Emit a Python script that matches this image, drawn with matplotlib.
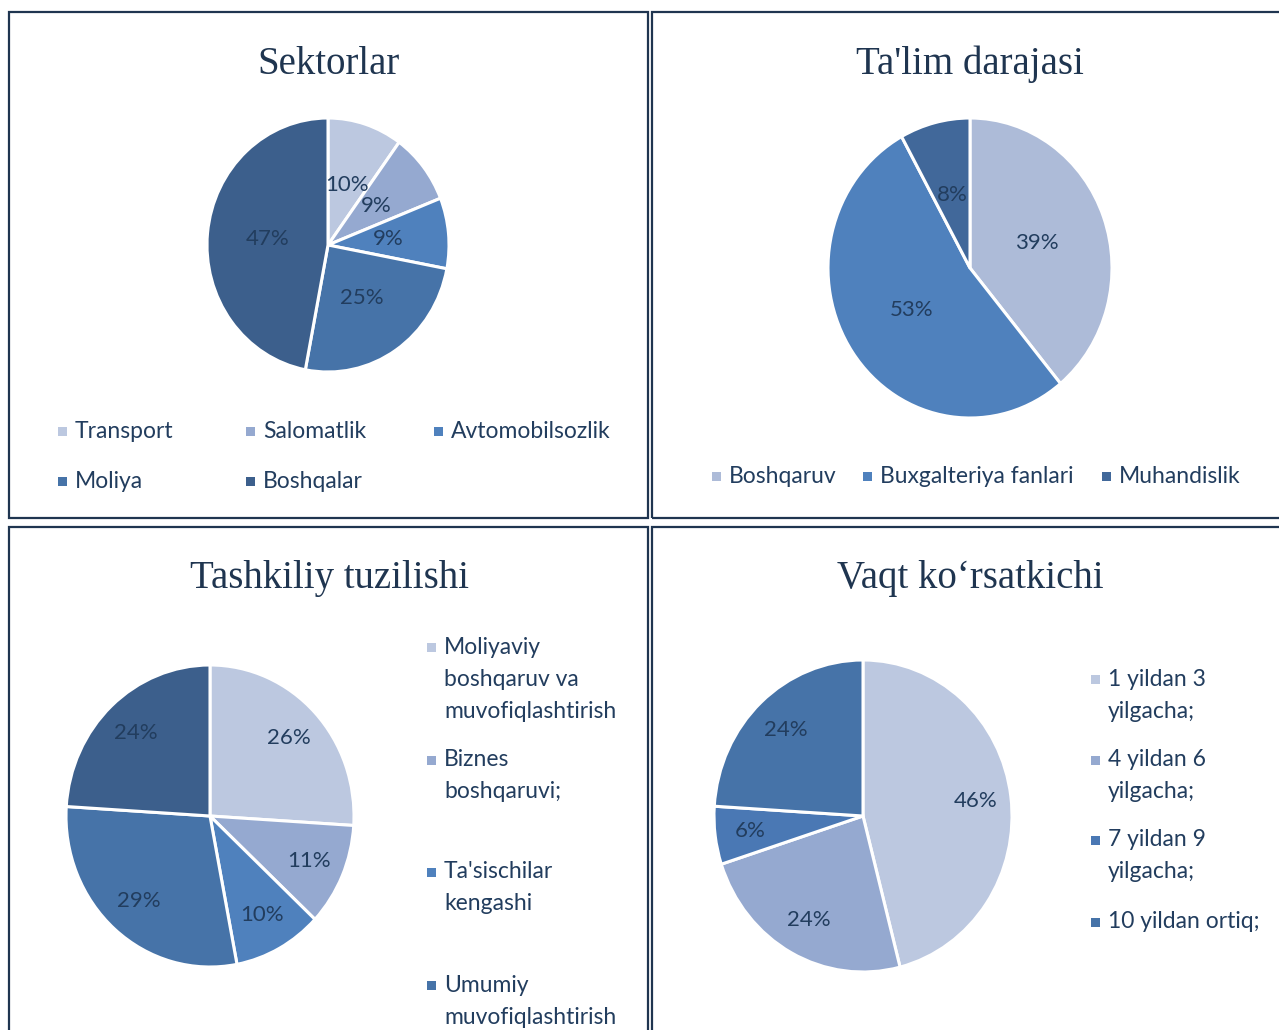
import numpy as np
import matplotlib.pyplot as plt
from matplotlib.patches import Rectangle

W, H = 1279, 1030

# ---- dati ----
sek_labels = ["Transport", "Salomatlik", "Avtomobilsozlik", "Moliya", "Boshqalar"]
sek_values = [10, 9, 9, 25, 47]
sek_colors = ["#bcc8e0", "#95a9d0", "#4f81bd", "#4673a8", "#3c5f8c"]

talim_labels = ["Boshqaruv", "Buxgalteriya fanlari", "Muhandislik"]
talim_values = [39, 53, 8]
talim_colors = ["#adbbd8", "#4f81bd", "#41689a"]

tash_labels = ["Moliyaviy\nboshqaruv va\nmuvofiqlashtirish", "Biznes\nboshqaruvi;",
               "Ta'sischilar\nkengashi", "Umumiy\nmuvofiqlashtirish"]
tash_values = [26, 11, 10, 29, 24]
tash_colors = ["#bcc8e0", "#95a9d0", "#4f81bd", "#4673a8", "#3c5f8c"]

vaqt_labels = ["1 yildan 3\nyilgacha;", "4 yildan 6\nyilgacha;", "7 yildan 9\nyilgacha;", "10 yildan ortiq;"]
vaqt_values = [46, 24, 6, 24]
vaqt_colors = ["#bcc8e0", "#95a9d0", "#4a78b4", "#4673a8"]

SANS = ["Lato", "DejaVu Sans"]
SERIF = ["Liberation Serif", "DejaVu Serif"]
NAVY = "#1f3550"
LBL = "#223d5e"

fig = plt.figure(figsize=(W/100, H/100), dpi=100)
fig.patch.set_facecolor("white")

def fx(x): return x / W
def fy(y): return 1 - y / H

# cornici dei pannelli
for x0, y0, x1, y1 in [(9, 12, 648, 518), (652, 12, 1300, 518),
                       (9, 527, 648, 1050), (652, 527, 1300, 1050)]:
    fig.add_artist(Rectangle((fx(x0), fy(y1)), fx(x1) - fx(x0), fy(y0) - fy(y1),
                             transform=fig.transFigure, fill=False,
                             edgecolor=NAVY, lw=1.6, clip_on=False))

def pie_panel(cx, cy, rx, ry, values, colors, pctdist):
    ax = fig.add_axes([fx(cx - rx), fy(cy + ry), 2 * rx / W, 2 * ry / H])
    wedges, _, autot = ax.pie(values, colors=colors, startangle=90, counterclock=False,
                              autopct=lambda p: f"{p:.0f}%", pctdistance=pctdist,
                              wedgeprops=dict(edgecolor="white", linewidth=2.2),
                              textprops=dict(color=LBL, fontsize=16, family=SANS))
    for w in wedges:
        w.set_clip_on(False)
    ax.set_aspect("auto")
    ax.set_xlim(-1, 1); ax.set_ylim(-1, 1)
    return ax

def legend_entry(x, y, text, color, gap=32):
    fig.add_artist(Rectangle((fx(x - 4.5), fy(y + 4.5)), 9 / W, 9 / H,
                             transform=fig.transFigure, color=color, lw=0))
    for i, ln in enumerate(text.split("\n")):
        fig.text(fx(x + 13), fy(y + i * gap), ln, ha="left", va="center",
                 fontsize=16.5, color=LBL, family=SANS)

def title(x, y, s):
    fig.text(fx(x), fy(y), s, ha="center", va="baseline", fontsize=28,
             color=NAVY, family=SERIF)

# ---- Sektorlar ----
title(329, 74, "Sektorlar")
pie_panel(328, 245, 121, 127, sek_values, sek_colors, 0.5)
sek_pos = [(62, 431), (250, 431), (438, 431), (62, 481), (250, 481)]
for (x, y), lab, c in zip(sek_pos, sek_labels, sek_colors):
    legend_entry(x, y, lab, c)

# ---- Ta'lim darajasi ----
title(970, 74, "Ta'lim darajasi")
pie_panel(970, 268, 142, 150, talim_values, talim_colors, 0.5)
for x, lab, c in zip([716, 867, 1106], talim_labels, talim_colors):
    legend_entry(x, 476, lab, c)

# ---- Tashkiliy tuzilishi ----
title(329, 588, "Tashkiliy tuzilishi")
pie_panel(210, 816, 144, 151, tash_values, tash_colors, 0.75)
for y, lab, c in zip([647, 760, 872, 985], tash_labels, tash_colors):
    legend_entry(431, y, lab, c)

# ---- Vaqt ko'rsatkichi ----
title(970, 588, "Vaqt ko\u2018rsatkichi")
pie_panel(863, 816, 149, 156, vaqt_values, vaqt_colors, 0.76)
for y, lab, c in zip([679, 760, 840, 922], vaqt_labels, vaqt_colors):
    legend_entry(1095, y, lab, c)

fig.savefig("out.png", dpi=100)
